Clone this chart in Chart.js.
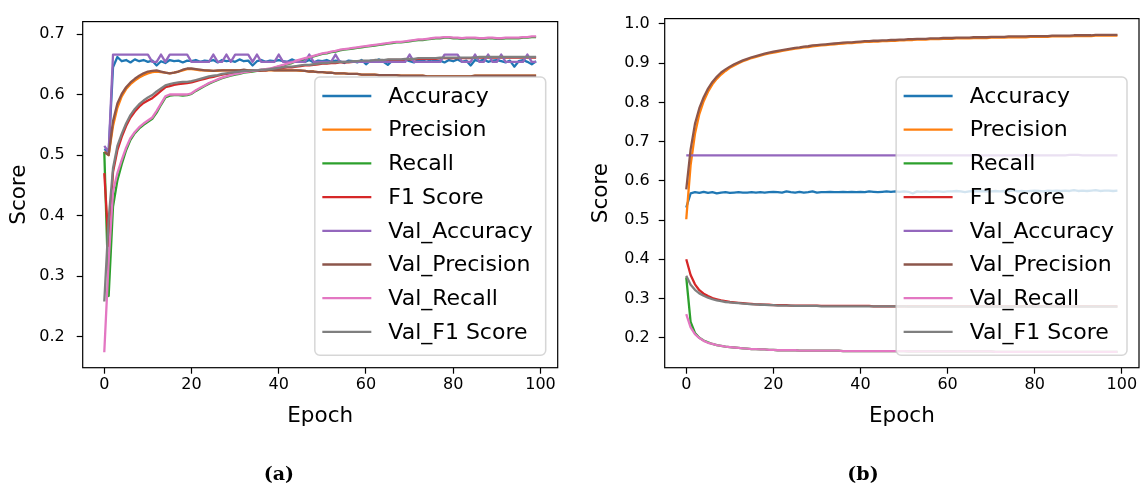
<!DOCTYPE html>
<html><head><meta charset="utf-8">
<script src="https://cdn.jsdelivr.net/npm/chart.js@4.4.0/dist/chart.umd.min.js"></script>
<style>
html,body{margin:0;padding:0;background:#fff;overflow:hidden;width:1141px;height:486px;}
canvas{position:absolute;top:0;}
#ca{left:0px;} #cb{left:587px;}
</style></head><body>
<canvas id="ca" width="572" height="486"></canvas>
<canvas id="cb" width="554" height="486"></canvas>
<script>
const epochs = Array.from({length: 100}, (_, i) => i);
const seriesNames = ['Accuracy','Precision','Recall','F1 Score','Val_Accuracy','Val_Precision','Val_Recall','Val_F1 Score'];
const seriesColors = ['#1f77b4','#ff7f0e','#2ca02c','#d62728','#9467bd','#8c564b','#e377c2','#7f7f7f'];
const xTicks = [0, 20, 40, 60, 80, 100];
const yTicksA = [0.2, 0.3, 0.4, 0.5, 0.6, 0.7];
const yTicksB = [0.2, 0.3, 0.4, 0.5, 0.6, 0.7, 0.8, 0.9, 1.0];
const captionA = '(a)';
const captionB = '(b)';
const xTitle = 'Epoch';
const yTitle = 'Score';

// ---------- panel (a) ----------
const accA = [
.510,.505,.645,.662,.655,.657,.653,.658,.655,.657,
.654,.656,.648,.655,.652,.657,.655,.656,.653,.656,
.655,.657,.654,.656,.655,.657,.653,.657,.655,.656,
.654,.658,.655,.656,.648,.655,.657,.654,.656,.655,
.657,.655,.654,.658,.655,.656,.654,.657,.653,.656,
.655,.657,.654,.656,.655,.652,.656,.655,.653,.657,
.650,.656,.655,.658,.654,.649,.656,.657,.655,.658,
.655,.653,.657,.656,.654,.658,.655,.656,.653,.657,
.655,.658,.654,.656,.648,.657,.655,.658,.654,.656,
.657,.655,.653,.656,.646,.655,.657,.654,.650,.655];
const precA = [
.505,.500,.548,.578,.597,.609,.617,.623,.628,.632,
.635,.637,.638,.637,.636,.635,.636,.638,.640,.642,
.642,.641,.640,.640,.639,.639,.639,.640,.640,.640,
.640,.640,.640,.640,.640,.640,.640,.640,.640,.640,
.640,.640,.640,.640,.640,.639,.639,.638,.638,.637,
.637,.636,.636,.635,.635,.635,.634,.634,.634,.633,
.633,.633,.633,.632,.632,.632,.632,.632,.631,.631,
.631,.631,.631,.631,.630,.630,.630,.630,.630,.630,
.630,.630,.630,.630,.630,.631,.631,.631,.631,.631,
.631,.631,.631,.631,.631,.631,.631,.631,.631,.631];
const recA = [
.505,.267,.415,.458,.485,.508,.525,.536,.544,.550,
.555,.560,.570,.583,.595,.598,.599,.599,.598,.599,
.601,.606,.610,.614,.618,.621,.624,.627,.629,.631,
.633,.634,.636,.637,.638,.639,.640,.641,.642,.644,
.646,.648,.650,.652,.655,.657,.659,.661,.663,.665,
.667,.668,.670,.671,.673,.674,.675,.676,.677,.678,
.679,.680,.681,.682,.683,.684,.685,.686,.686,.687,
.688,.689,.690,.690,.691,.692,.693,.693,.694,.694,
.693,.693,.692,.693,.693,.693,.692,.692,.693,.693,
.692,.692,.693,.693,.693,.693,.694,.694,.695,.695];
const f1A = [
.470,.350,.472,.508,.530,.548,.562,.572,.580,.586,
.590,.594,.600,.606,.612,.614,.616,.617,.618,.619,
.620,.622,.624,.626,.628,.629,.631,.633,.634,.635,
.636,.637,.638,.638,.639,.639,.640,.640,.641,.642,
.643,.644,.645,.645,.646,.647,.648,.648,.649,.650,
.651,.651,.652,.652,.653,.653,.653,.654,.654,.655,
.655,.655,.656,.656,.656,.657,.657,.657,.657,.658,
.658,.658,.659,.659,.659,.659,.659,.660,.660,.660,
.660,.660,.660,.660,.660,.661,.661,.661,.661,.661,
.661,.661,.661,.661,.661,.661,.661,.661,.661,.661];
const valAccA = [
.515,.505,.666,.666,.666,.666,.666,.666,.666,.666,
.666,.654,.654,.666,.654,.666,.666,.666,.666,.666,
.654,.654,.654,.654,.654,.666,.654,.654,.666,.654,
.666,.666,.666,.666,.654,.666,.654,.654,.654,.654,
.666,.654,.654,.654,.654,.654,.654,.666,.654,.654,
.654,.654,.654,.666,.654,.654,.654,.654,.654,.654,
.654,.654,.654,.654,.654,.654,.654,.654,.654,.654,
.666,.654,.654,.654,.654,.654,.654,.654,.666,.666,
.666,.666,.654,.654,.654,.666,.654,.654,.666,.654,
.654,.666,.654,.654,.654,.654,.654,.666,.654,.654];
const valPrecA = [
.505,.500,.556,.585,.601,.612,.620,.626,.631,.635,
.638,.639,.640,.638,.636,.635,.636,.638,.641,.643,
.643,.642,.641,.640,.640,.639,.640,.640,.640,.640,
.640,.640,.641,.640,.640,.640,.640,.640,.641,.640,
.640,.640,.640,.640,.640,.640,.639,.638,.638,.637,
.637,.636,.636,.635,.635,.635,.634,.634,.634,.633,
.633,.633,.633,.632,.632,.632,.632,.632,.631,.631,
.631,.631,.631,.631,.630,.630,.630,.630,.630,.630,
.630,.630,.630,.630,.630,.631,.631,.631,.631,.631,
.631,.631,.631,.631,.631,.631,.631,.631,.631,.631];
const valRecA = [
.174,.325,.440,.470,.492,.512,.528,.538,.546,.552,
.557,.562,.573,.585,.597,.600,.600,.600,.600,.600,
.602,.607,.611,.615,.619,.622,.625,.628,.630,.632,
.634,.635,.637,.638,.639,.640,.641,.642,.643,.645,
.647,.649,.651,.653,.656,.658,.660,.662,.664,.666,
.668,.669,.671,.672,.674,.675,.676,.677,.678,.679,
.680,.681,.682,.683,.684,.685,.686,.687,.687,.688,
.689,.690,.691,.691,.692,.693,.694,.694,.695,.695,
.694,.694,.693,.694,.694,.694,.693,.693,.694,.694,
.693,.693,.694,.694,.694,.694,.695,.695,.696,.696];
const valF1A = [
.258,.394,.478,.515,.535,.552,.566,.576,.584,.590,
.595,.599,.605,.610,.615,.617,.619,.620,.621,.621,
.622,.624,.626,.628,.630,.631,.632,.634,.635,.636,
.637,.638,.639,.639,.640,.640,.641,.641,.642,.643,
.644,.645,.646,.646,.647,.648,.649,.649,.650,.651,
.652,.652,.653,.653,.654,.654,.654,.655,.655,.656,
.656,.656,.657,.657,.657,.658,.658,.658,.658,.659,
.659,.659,.660,.660,.660,.660,.660,.661,.661,.661,
.661,.661,.661,.661,.661,.661,.662,.662,.662,.662,
.662,.662,.662,.662,.662,.662,.662,.662,.662,.662];

// ---------- panel (b) ----------
const accB = [
.532,.568,.571,.569,.572,.569,.571,.568,.570,.571,
.569,.570,.571,.570,.570,.571,.570,.571,.570,.571,
.572,.571,.570,.573,.571,.570,.572,.570,.571,.573,
.570,.571,.571,.572,.571,.571,.572,.571,.572,.571,
.572,.571,.573,.572,.571,.572,.573,.572,.573,.572,
.573,.572,.568,.573,.572,.573,.572,.573,.573,.572,
.573,.573,.574,.573,.571,.573,.574,.573,.574,.573,
.573,.574,.573,.574,.573,.576,.573,.574,.573,.574,
.575,.574,.573,.575,.574,.575,.574,.575,.574,.576,
.574,.575,.574,.575,.576,.574,.575,.575,.574,.575];
const precB = [
.502,.640,.720,.770,.803,.827,.846,.860,.871,.880,
.888,.894,.900,.905,.909,.913,.916,.919,.922,.925,
.927,.929,.931,.933,.935,.937,.938,.940,.941,.943,
.944,.945,.946,.947,.948,.949,.950,.951,.951,.952,
.953,.954,.954,.955,.955,.956,.956,.957,.957,.958,
.958,.959,.959,.960,.960,.960,.961,.961,.961,.962,
.962,.962,.963,.963,.963,.963,.964,.964,.964,.964,
.965,.965,.965,.965,.966,.966,.966,.966,.966,.967,
.967,.967,.967,.967,.968,.968,.968,.968,.968,.969,
.969,.969,.969,.969,.970,.970,.970,.970,.970,.970];
const recB = [
.354,.240,.212,.200,.193,.188,.184,.181,.179,.177,
.176,.175,.174,.173,.172,.171,.171,.170,.170,.169,
.169,.168,.168,.168,.168,.168,.167,.167,.167,.167,
.167,.167,.167,.167,.167,.167,.166,.166,.166,.166,
.166,.166,.166,.166,.166,.166,.166,.166,.166,.166,
.166,.165,.165,.165,.165,.165,.165,.165,.165,.165,
.165,.165,.165,.165,.165,.165,.165,.165,.165,.165,
.165,.164,.164,.164,.164,.164,.164,.164,.164,.164,
.164,.164,.164,.164,.164,.164,.164,.164,.164,.164,
.164,.164,.164,.164,.164,.164,.164,.164,.164,.164];
const f1B = [
.400,.360,.336,.321,.312,.306,.301,.298,.295,.293,
.291,.290,.289,.288,.287,.286,.285,.285,.284,.284,
.283,.283,.283,.283,.282,.282,.282,.282,.282,.282,
.282,.281,.281,.281,.281,.281,.281,.281,.281,.281,
.281,.281,.281,.280,.280,.280,.280,.280,.280,.280,
.280,.280,.280,.280,.280,.280,.280,.280,.280,.280,
.280,.280,.280,.280,.280,.280,.280,.280,.280,.280,
.280,.280,.280,.280,.280,.280,.280,.280,.280,.280,
.280,.280,.280,.280,.280,.280,.280,.280,.280,.280,
.280,.280,.280,.280,.280,.280,.280,.280,.280,.280];
const valAccB = [
.665,.665,.665,.665,.665,.665,.665,.665,.665,.665,
.665,.665,.665,.665,.665,.665,.665,.665,.665,.665,
.665,.665,.665,.665,.665,.665,.665,.665,.665,.665,
.665,.665,.665,.665,.665,.665,.665,.665,.665,.665,
.665,.665,.665,.665,.665,.665,.665,.665,.665,.665,
.665,.665,.665,.665,.665,.665,.665,.665,.665,.665,
.665,.665,.665,.665,.665,.665,.665,.665,.665,.665,
.665,.665,.665,.665,.665,.665,.665,.665,.665,.665,
.665,.665,.665,.665,.665,.665,.665,.665,.666,.666,
.666,.665,.665,.665,.665,.665,.665,.665,.665,.665];
const valPrecB = [
.578,.680,.745,.785,.813,.835,.852,.865,.876,.884,
.891,.897,.902,.907,.911,.915,.918,.921,.924,.927,
.929,.931,.933,.935,.937,.939,.940,.942,.943,.945,
.946,.947,.948,.949,.950,.951,.952,.953,.953,.954,
.955,.956,.956,.957,.957,.958,.958,.959,.959,.960,
.960,.961,.961,.962,.962,.962,.963,.963,.963,.964,
.964,.964,.965,.965,.965,.965,.966,.966,.966,.966,
.967,.967,.967,.967,.968,.968,.968,.968,.968,.969,
.969,.969,.969,.969,.970,.970,.970,.970,.970,.971,
.971,.971,.971,.971,.972,.972,.972,.972,.972,.972];
const valRecB = [
.260,.226,.209,.199,.192,.187,.184,.181,.179,.177,
.176,.175,.174,.173,.172,.171,.171,.170,.170,.169,
.169,.168,.168,.168,.168,.168,.167,.167,.167,.167,
.167,.167,.167,.167,.167,.167,.166,.166,.166,.166,
.166,.166,.166,.166,.166,.166,.166,.166,.166,.166,
.166,.165,.165,.165,.165,.165,.165,.165,.165,.165,
.165,.165,.165,.165,.165,.165,.165,.165,.165,.165,
.165,.164,.164,.164,.164,.164,.164,.164,.164,.164,
.164,.164,.164,.164,.164,.164,.164,.164,.164,.164,
.164,.164,.164,.164,.164,.164,.164,.164,.164,.164];
const valF1B = [
.358,.335,.322,.313,.307,.302,.298,.295,.293,.291,
.290,.289,.288,.287,.286,.285,.285,.284,.284,.283,
.283,.282,.282,.282,.282,.281,.281,.281,.281,.281,
.281,.280,.280,.280,.280,.280,.280,.280,.280,.280,
.280,.280,.280,.280,.280,.280,.280,.280,.280,.280,
.280,.279,.279,.279,.279,.279,.279,.279,.279,.279,
.279,.279,.279,.279,.279,.279,.279,.279,.279,.279,
.279,.279,.279,.279,.279,.279,.279,.279,.279,.279,
.279,.279,.279,.279,.279,.279,.279,.279,.279,.279,
.279,.279,.279,.279,.279,.279,.279,.279,.279,.279];

Chart.defaults.font.family = '"DejaVu Sans", sans-serif';
Chart.defaults.color = '#000';

const framePlugin = {
  id: 'mplFrame',
  afterDatasetsDraw(chart) {
    const {ctx, chartArea: a} = chart;
    ctx.save();
    ctx.strokeStyle = '#000';
    ctx.lineWidth = 1.2;
    ctx.strokeRect(a.left, a.top, a.right - a.left, a.bottom - a.top);
    ctx.restore();
  }
};

const legendPlugin = {
  id: 'mplLegend',
  afterDraw(chart) {
    const {ctx, chartArea: a} = chart;
    const ds = chart.data.datasets;
    const fs = 22, rowH = 33.7;
    ctx.save();
    ctx.font = fs + 'px "DejaVu Sans"';
    let tw = 0;
    ds.forEach(d => { tw = Math.max(tw, ctx.measureText(d.label).width); });
    const w = 73.5 + tw + 13;
    const h = 19 + rowH * (ds.length - 1) + 23.3;
    const x0 = a.right - 12 - w, y0 = a.bottom - 12.5 - h;
    ctx.beginPath();
    ctx.roundRect(x0, y0, w, h, 5);
    ctx.fillStyle = 'rgba(255,255,255,0.8)';
    ctx.fill();
    ctx.strokeStyle = 'rgba(204,204,204,0.8)';
    ctx.lineWidth = 1.5;
    ctx.stroke();
    ds.forEach((d, i) => {
      const y = y0 + 19 + rowH * i;
      ctx.strokeStyle = d.borderColor;
      ctx.lineWidth = 2.3;
      ctx.beginPath();
      ctx.moveTo(x0 + 7.5, y);
      ctx.lineTo(x0 + 56.5, y);
      ctx.stroke();
      ctx.fillStyle = '#000';
      ctx.textBaseline = 'middle';
      ctx.textAlign = 'left';
      ctx.fillText(d.label, x0 + 73.5, y + 1);
    });
    ctx.restore();
  }
};

function makeChart(id, series, yTicks, yMin, yMax, opt) {
  const datasets = series.map((s, i) => ({
    label: seriesNames[i],
    data: s,
    borderColor: seriesColors[i],
    backgroundColor: seriesColors[i],
    borderWidth: 2.3,
    pointRadius: 0,
    pointHoverRadius: 0,
    tension: 0,
    fill: false,
    borderJoinStyle: 'round',
    order: series.length - i
  }));
  return new Chart(document.getElementById(id), {
    type: 'line',
    data: {labels: epochs, datasets},
    plugins: [framePlugin, legendPlugin],
    options: {
      responsive: false,
      animation: false,
      devicePixelRatio: 1,
      events: [],
      layout: {padding: {left: 0, right: opt.padRight, top: opt.padTop, bottom: 0}},
      plugins: {
        legend: {display: false},
        tooltip: {enabled: false},
        title: {
          display: true, position: 'bottom', text: opt.caption, color: '#000',
          font: {family: '"DejaVu Serif", "Liberation Serif", serif', size: 19, weight: 'bold', lineHeight: 1},
          padding: {top: 26, bottom: 1}
        }
      },
      scales: {
        x: {
          type: 'linear', min: -4.95, max: 103.95,
          afterBuildTicks: sc => { sc.ticks = xTicks.map(v => ({value: v})); },
          afterFit: sc => { sc.height = 72.3; },
          ticks: {font: {size: 16}, color: '#000', padding: 2, maxRotation: 0, callback: v => String(v)},
          grid: {display: true, drawOnChartArea: false, drawTicks: true, tickLength: 6, tickColor: '#000', tickWidth: 1.2},
          border: {display: false},
          title: {display: true, text: xTitle, color: '#000', font: {size: 21.5}, padding: {top: 0, bottom: 10.5}}
        },
        y: {
          type: 'linear', min: yMin, max: yMax,
          afterBuildTicks: sc => { sc.ticks = yTicks.map(v => ({value: v})); },
          afterFit: sc => { sc.width = opt.yWidth; },
          ticks: {font: {size: 16}, color: '#000', padding: opt.yPad, callback: v => v.toFixed(1)},
          grid: {display: true, drawOnChartArea: false, drawTicks: true, tickLength: 6, tickColor: '#000', tickWidth: 1.2},
          border: {display: false},
          title: {display: true, text: yTitle, color: '#000', font: {size: 21.5}, padding: {top: opt.yTitlePad, bottom: 0}}
        }
      }
    }
  });
}

makeChart('ca', [accA, precA, recA, f1A, valAccA, valPrecA, valRecA, valF1A], yTicksA, 0.1485, 0.7205,
  {caption: captionA, padRight: 14.3, padTop: 15.7, yWidth: 82.7, yPad: 12, yTitlePad: 7});
makeChart('cb', [accB, precB, recB, f1B, valAccB, valPrecB, valRecB, valF1B], yTicksB, 0.1235, 1.0135,
  {caption: captionB, padRight: 2, padTop: 17.3, yWidth: 77.7, yPad: 9, yTitlePad: 2});
</script>
</body></html>
